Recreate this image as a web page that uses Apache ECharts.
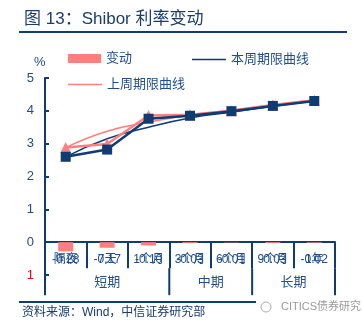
<!DOCTYPE html>
<html><head><meta charset="utf-8">
<script src="https://cdn.jsdelivr.net/npm/echarts@6/dist/echarts.min.js"></script>
<style>html,body{margin:0;padding:0;background:#fff}#c{width:363px;height:325px}</style>
</head><body><div id="c"></div>
<script>
var categories = ['隔夜','7天','1个月','3个月','6个月','9个月','1年'];
var changeValues = [-0.28,-0.17,-0.10,-0.03,-0.01,-0.03,-0.02];
var changeLabels = ['-0.28','-0.17','-0.10','-0.03','-0.01','-0.03','-0.02'];
var thisWeek = [2.60,2.82,3.76,3.85,3.99,4.15,4.30];
var lastWeek = [2.88,2.99,3.86,3.88,4.00,4.18,4.32];
var thisWeekCurve = [2.60,3.15,3.50,3.78,3.96,4.14,4.30];
var lastWeekCurve = [2.88,3.38,3.65,3.87,4.02,4.18,4.32];
var groups = [{name:'短期',from:0,to:3},{name:'中期',from:3,to:5},{name:'长期',from:5,to:7}];
var yTicks = {min:-1,max:5,interval:1};

var NAVY = '#0f3c73', PINK = '#ff7f7f', TXT = '#1f4e8c';
var FONT = '"Liberation Sans","Noto Sans CJK SC",sans-serif';
var chart = echarts.init(document.getElementById('c'));
var legendText = {color:TXT,fontSize:13};
chart.setOption({
  animation:false,
  textStyle:{fontFamily:FONT},
  title:{text:'图 13：Shibor 利率变动',left:19,top:6,textStyle:{fontSize:17,fontWeight:'normal',color:'#1a3d6e',fontFamily:FONT}},
  legend:[
    {data:['变动'],left:63,top:47,icon:'rect',itemWidth:33,itemHeight:9,textStyle:legendText,selectedMode:false},
    {data:['本周期限曲线'],left:187,top:48,icon:'rect',itemWidth:34,itemHeight:1.5,textStyle:legendText,selectedMode:false},
    {data:['上周期限曲线'],left:63,top:73,icon:'rect',itemWidth:34,itemHeight:1.5,textStyle:legendText,selectedMode:false}
  ],
  grid:{left:45,right:28,top:78,bottom:50},
  xAxis:[
    {type:'category',data:categories,boundaryGap:true,
     axisLine:{onZero:true,lineStyle:{color:NAVY,width:2}},
     axisTick:{show:true,length:26,alignWithLabel:false,lineStyle:{color:NAVY,width:2}},
     axisLabel:{color:TXT,fontSize:12,margin:-21,interval:0}},
    {type:'category',data:changeLabels,position:'bottom',
     axisLine:{show:false,onZero:true},axisTick:{show:false},
     axisLabel:{color:TXT,fontSize:12,margin:-21,interval:0}}
  ],
  yAxis:{type:'value',min:yTicks.min,max:yTicks.max,interval:yTicks.interval,
    axisLine:{show:true,lineStyle:{color:NAVY,width:2}},
    axisTick:{show:true,inside:true,length:4,lineStyle:{color:NAVY,width:2}},
    splitLine:{show:false},
    axisLabel:{fontSize:13,color:TXT,margin:11,
      formatter:function(v){return v<0?'{neg|'+Math.abs(v)+'}':''+v;},
      rich:{neg:{color:'#ff0000',fontSize:13}}}},
  series:[
    {name:'变动',type:'bar',data:changeValues,barWidth:15,itemStyle:{color:PINK},z:2},
    {name:'本周期限曲线',type:'line',data:thisWeekCurve,smooth:true,showSymbol:false,symbol:'none',lineStyle:{color:NAVY,width:1.5},itemStyle:{color:NAVY},z:3},
    {name:'上周期限曲线',type:'line',data:lastWeekCurve,smooth:true,showSymbol:false,symbol:'none',lineStyle:{color:PINK,width:1.5},itemStyle:{color:PINK},z:3},
    {name:'lastWeekMarked',type:'line',data:lastWeek,symbol:'triangle',symbolSize:11,lineStyle:{color:PINK,width:2.5},itemStyle:{color:PINK},z:4},
    {name:'thisWeekMarked',type:'line',data:thisWeek,symbol:'rect',symbolSize:10,lineStyle:{color:NAVY,width:2.5},itemStyle:{color:NAVY},z:5}
  ]
});

function drawExtras(){
  var band = (chart.convertToPixel({xAxisIndex:0},categories[1]) - chart.convertToPixel({xAxisIndex:0},categories[0]));
  var x0 = chart.convertToPixel({xAxisIndex:0},categories[0]) - band/2;
  var yZero = chart.convertToPixel({yAxisIndex:0},0);
  var yMin = chart.convertToPixel({yAxisIndex:0},yTicks.min);
  var rowTop = yZero + 26, rowBot = rowTop + 27;
  var g = [];
  g.push({type:'line',shape:{x1:19,y1:32,x2:347,y2:32},style:{stroke:NAVY,lineWidth:2},silent:true});
  g.push({type:'line',shape:{x1:19,y1:302,x2:256,y2:302},style:{stroke:NAVY,lineWidth:2},silent:true});
  g.push({type:'line',shape:{x1:x0,y1:yMin,x2:x0,y2:rowBot},style:{stroke:NAVY,lineWidth:2},silent:true});
  g.push({type:'text',left:34,top:56,style:{text:'%',fill:TXT,font:'13px '+FONT}});
  groups.forEach(function(gr){
    var xr = x0 + gr.to*band, xc = x0 + (gr.from+gr.to)/2*band;
    g.push({type:'line',shape:{x1:xr,y1:rowTop,x2:xr,y2:rowBot},style:{stroke:NAVY,lineWidth:2},silent:true});
    g.push({type:'text',x:xc,y:(rowTop+rowBot)/2+1,style:{text:gr.name,fill:TXT,font:'13px '+FONT,align:'center',verticalAlign:'middle'}});
  });
  g.push({type:'text',x:22,y:313,style:{text:'资料来源：Wind，中信证券研究部',fill:'#1a3d6e',font:'12px '+FONT,verticalAlign:'middle'}});
  g.push({type:'circle',shape:{cx:266,cy:307,r:5},style:{fill:'none',stroke:'#aaa',lineWidth:1}});
  g.push({type:'text',x:281,y:307,style:{text:'CITICS债券研究',fill:'#9a9a9a',font:'11px '+FONT,verticalAlign:'middle'}});
  chart.setOption({graphic:g});
}
drawExtras();
</script></body></html>
